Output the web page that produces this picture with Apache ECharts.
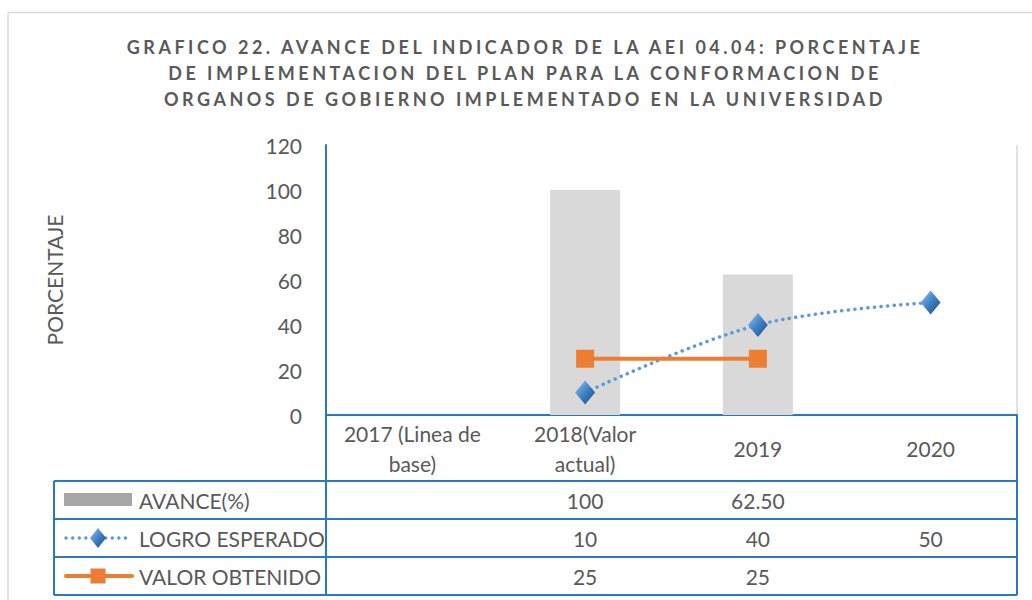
<!DOCTYPE html>
<html>
<head>
<meta charset="utf-8">
<script src="https://cdn.jsdelivr.net/npm/echarts@6/dist/echarts.min.js"></script>
<style>
html, body { margin: 0; padding: 0; background: #fff; }
#grafico { width: 1032px; height: 600px; }
/* el titulo va espaciado (solo el titulo es negrita) */
#grafico svg text[style*="bold"] { letter-spacing: 3.5px; }
</style>
</head>
<body>
<div id="grafico"></div>
<script>
// datos
var categorias = ['2017 (Linea de\nbase)', '2018(Valor\nactual)', '2019', '2020'];
var avance = [null, 100, 62.5, null];
var logroEsperado = [null, 10, 40, 50];
var valorObtenido = [null, 25, 25, null];
var nombresSeries = ['AVANCE(%)', 'LOGRO ESPERADO', 'VALOR OBTENIDO'];
var ticksY = [0, 20, 40, 60, 80, 100, 120];

var gris = '#595959';
var azul = '#2a78c2';
var fuente = 'Lato';

// filas de la tabla de datos como ejes x extra
function filaTabla(valores, margen) {
  return {
    type: 'category',
    data: categorias,
    gridIndex: 0,
    position: 'bottom',
    axisLine: { show: false, onZero: false },
    axisTick: { show: false },
    splitLine: { show: false },
    axisLabel: {
      interval: 0,
      margin: margen,
      verticalAlign: 'middle',
      color: gris,
      fontFamily: fuente,
      fontSize: 21,
      formatter: function (v, i) {
        var x = valores[i];
        if (x == null) return '';
        return Number.isInteger(x) ? String(x) : x.toFixed(2);
      }
    }
  };
}

function linea(x1, y1, x2, y2, color, ancho, extra) {
  var st = { stroke: color, lineWidth: ancho };
  if (extra) Object.assign(st, extra);
  return { type: 'line', shape: { x1: x1, y1: y1, x2: x2, y2: y2 }, style: st, silent: true };
}

var myChart = echarts.init(document.getElementById('grafico'), null, { renderer: 'svg' });

var diamante = new echarts.graphic.LinearGradient(0, 0, 1, 1, [
  { offset: 0, color: '#9cc8f0' },
  { offset: 0.5, color: '#3f80c6' },
  { offset: 1, color: '#1c4a7e' }
]);

var option = {
  animation: false,
  backgroundColor: '#fff',
  title: {
    text: 'GRAFICO 22. AVANCE DEL INDICADOR DE LA AEI 04.04: PORCENTAJE\nDE IMPLEMENTACION DEL PLAN PARA LA CONFORMACION DE\nORGANOS DE GOBIERNO IMPLEMENTADO EN LA UNIVERSIDAD',
    left: 525,
    top: 34,
    padding: 0,
    textAlign: 'center',
    textStyle: {
      color: gris,
      fontFamily: fuente,
      fontWeight: 'bold',
      fontSize: 18,
      lineHeight: 26
    }
  },
  grid: {
    left: 326,
    right: 15,
    top: 145,
    bottom: 185
  },
  xAxis: [
    {
      type: 'category',
      data: categorias,
      axisLine: { show: true, onZero: false, lineStyle: { color: azul, width: 2 } },
      axisTick: { show: false },
      axisLabel: {
        interval: 0,
        margin: 33,
        verticalAlign: 'middle',
        lineHeight: 30,
        color: gris,
        fontFamily: fuente,
        fontSize: 21
      }
    },
    filaTabla(avance, 85),
    filaTabla(logroEsperado, 123),
    filaTabla(valorObtenido, 161)
  ],
  yAxis: {
    type: 'value',
    min: ticksY[0],
    max: ticksY[ticksY.length - 1],
    interval: ticksY[1] - ticksY[0],
    name: 'PORCENTAJE',
    nameLocation: 'middle',
    nameRotate: 90,
    nameGap: 261,
    nameTextStyle: { color: gris, fontFamily: fuente, fontSize: 21 },
    axisLine: { show: true, lineStyle: { color: azul, width: 2 } },
    axisTick: { show: false },
    splitLine: { show: false },
    axisLabel: { margin: 24, color: gris, fontFamily: fuente, fontSize: 21 }
  },
  series: [
    {
      name: nombresSeries[0],
      type: 'bar',
      data: avance,
      barWidth: 70,
      itemStyle: { color: '#d9d9d9' },
      z: 1
    },
    {
      name: nombresSeries[1],
      type: 'line',
      data: logroEsperado,
      smooth: 0.35,
      symbol: 'diamond',
      symbolSize: [20, 24],
      itemStyle: { color: diamante },
      lineStyle: { color: '#5b9bd5', width: 3.5, type: [0.1, 6.5], cap: 'round' },
      z: 3
    },
    {
      name: nombresSeries[2],
      type: 'line',
      data: valorObtenido,
      symbol: 'rect',
      symbolSize: 18,
      itemStyle: { color: '#ed7d31' },
      lineStyle: { color: '#ed7d31', width: 4 },
      z: 4
    }
  ],
  graphic: [
    // marco del grafico
    linea(8, 12.5, 1032, 12.5, '#d9d9d9', 1.5),
    linea(8, 12.5, 8, 600, '#d9d9d9', 1.5),
    // borde derecho del area de trazado
    linea(1017, 145, 1017, 415, '#d9d9d9', 1.5),
    // tabla
    linea(326, 415, 326, 595, azul, 2),
    linea(1017, 415, 1017, 595, azul, 2),
    linea(54, 481, 54, 595, azul, 2),
    linea(54, 481, 1017, 481, azul, 2),
    linea(54, 519, 1017, 519, azul, 2),
    linea(54, 557, 1017, 557, azul, 2),
    linea(54, 595, 1017, 595, azul, 2),
    // claves de la tabla
    { type: 'rect', shape: { x: 64, y: 493, width: 68, height: 13 }, style: { fill: '#a6a6a6' }, silent: true },
    linea(66, 538, 132, 538, '#5b9bd5', 3.5, { lineDash: [0.1, 6.5], lineCap: 'round' }),
    { type: 'polygon', shape: { points: [[98, 528], [106, 538], [98, 548], [90, 538]] }, style: { fill: diamante }, silent: true },
    linea(66, 576, 132, 576, '#ed7d31', 4, { lineCap: 'round' }),
    { type: 'rect', shape: { x: 90.5, y: 568.5, width: 15, height: 15 }, style: { fill: '#ed7d31' }, silent: true },
    { type: 'text', x: 139, y: 500, style: { text: nombresSeries[0], fill: gris, font: '21px Lato', verticalAlign: 'middle' }, silent: true },
    { type: 'text', x: 139, y: 538, style: { text: nombresSeries[1], fill: gris, font: '21px Lato', verticalAlign: 'middle' }, silent: true },
    { type: 'text', x: 139, y: 576, style: { text: nombresSeries[2], fill: gris, font: '21px Lato', verticalAlign: 'middle' }, silent: true }
  ]
};

option && myChart.setOption(option);
</script>
</body>
</html>
